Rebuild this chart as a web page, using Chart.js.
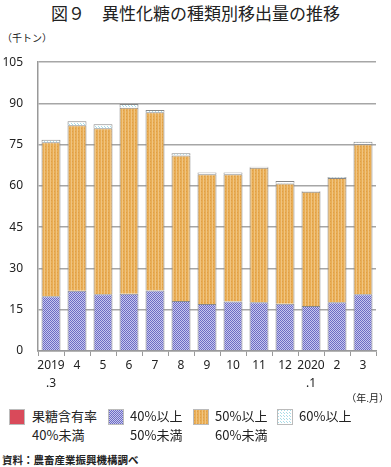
<!DOCTYPE html>
<html><head><meta charset="utf-8">
<script src="https://cdn.jsdelivr.net/npm/chart.js@4/dist/chart.umd.min.js"></script>
<style>
body{margin:0;background:#fff;width:391px;height:467px;position:relative;overflow:hidden;font-family:"Noto Sans CJK JP","Noto Sans",sans-serif;color:#222}
#title{position:absolute;left:0;top:1px;width:391px;text-align:center;font-size:17px;line-height:24px;font-weight:400}
#unit{position:absolute;left:2px;top:30px;font-size:10px}
#ym{position:absolute;right:2px;top:390px;font-size:10px}
#wrap{position:absolute;left:0;top:40px;width:391px;height:360px}
.lg{position:absolute;top:406px;font-size:13px;line-height:19px}
.lg canvas{position:absolute;left:0;top:3px;border:1px solid #bbb;box-sizing:border-box}
.lg div{position:absolute;white-space:nowrap}
#src{position:absolute;left:2px;top:452px;font-size:10.5px;font-weight:bold}
</style></head><body>
<div id="title">図９　異性化糖の種類別移出量の推移</div>
<div id="unit">（千トン）</div>
<div id="wrap"><canvas id="c" width="391" height="360"></canvas></div>
<div id="ym">（年.月）</div>
<div id="legend"></div>
<div id="src">資料：農畜産業振興機構調べ</div>
<script>
const categories = [["2019",".3"],"4","5","6","7","8","9","10","11","12",["2020",".1"],"2","3"];
const seriesNames = [["果糖含有率","40%未満"],["40%以上","50%未満"],["50%以上","60%未満"],["60%以上"]];
const under40 = [0,0,0,0,0,0,0,0,0,0,0,0,0];
const from40to50 = [19.9,21.9,20.6,20.8,22.0,18.2,17.1,18.0,17.7,17.2,16.4,17.7,20.6];
const from50to60 = [56.0,60.2,60.4,67.6,64.8,52.9,47.2,46.3,48.9,43.7,41.5,45.2,54.6];
const over60 = [0.9,1.4,1.4,1.4,0.8,0.8,0.6,0.6,0.4,0.9,0.3,0.4,0.9];
const yTicks = [0,15,30,45,60,75,90,105];

function mkPattern(kind){
  const p=document.createElement('canvas');
  const x=p.getContext('2d');
  if(kind==='red'){p.width=p.height=2;x.fillStyle='#d94a5a';x.fillRect(0,0,2,2);}
  else if(kind==='blue'){p.width=p.height=2;x.fillStyle='#c6c6ee';x.fillRect(0,0,2,2);x.fillStyle='#6c6cc4';x.fillRect(0,0,1,1);x.fillRect(1,1,1,1);}
  else if(kind==='orange'){p.width=3;p.height=3;x.fillStyle='#e8ad55';x.fillRect(0,0,3,3);x.fillStyle='#f0c480';x.fillRect(2,0,1,3);x.fillStyle='#e09e45';x.fillRect(0,1,1,1);}
  else {p.width=p.height=3;x.fillStyle='#ffffff';x.fillRect(0,0,3,3);x.fillStyle='#a8dce8';x.fillRect(0,0,1,1);x.fillRect(2,2,1,1);}
  return p;
}
const kinds=['red','blue','orange','cyan'];
const ctx=document.getElementById('c').getContext('2d');
const pats=kinds.map(k=>ctx.createPattern(mkPattern(k),'repeat'));
const dataArrays=[under40,from40to50,from50to60,over60];

new Chart(ctx,{
  type:'bar',
  data:{labels:categories,datasets:dataArrays.map((d,i)=>({label:seriesNames[i].join(''),data:d,backgroundColor:pats[i],borderColor:'#888',borderWidth:1,barPercentage:0.73,categoryPercentage:1}))},
  options:{
    responsive:false,animation:false,
    layout:{padding:{top:12,right:15,left:0,bottom:0}},
    plugins:{legend:{display:false},title:{display:false},tooltip:{enabled:false}},
    scales:{
      x:{stacked:true,
        grid:{display:true,drawOnChartArea:false,drawTicks:true,tickLength:5,color:'#999',offset:true},
        border:{display:true,color:'#999',width:1.5},
        ticks:{color:'#222',font:{family:'"Noto Sans","DejaVu Sans",sans-serif',size:12,lineHeight:1.5},padding:1,maxRotation:0,autoSkip:false},
        afterFit(s){s.height=49;}
      },
      y:{stacked:true,min:0,max:105,
        afterBuildTicks(s){s.ticks=yTicks.map(v=>({value:v}));},
        grid:{color:'#a6a6a6',lineWidth:1.5,drawTicks:false},
        border:{display:true,color:'#999',width:1.5},
        ticks:{color:'#222',font:{family:'"Noto Sans","DejaVu Sans",sans-serif',size:12},padding:15},
        afterFit(s){s.width=38;}
      }
    }
  }
});

// HTML legend
const lgX=[9,108,193,277];
const lg=document.getElementById('legend');
seriesNames.forEach((n,i)=>{
  const d=document.createElement('div');d.className='lg';d.style.left=lgX[i]+'px';
  const cv=document.createElement('canvas');cv.width=14;cv.height=14;
  const cx=cv.getContext('2d');cx.fillStyle=cx.createPattern(mkPattern(kinds[i]),'repeat');cx.fillRect(0,0,14,14);
  d.appendChild(cv);
  const t=document.createElement('div');t.style.left=(i===0?23:22)+'px';t.style.top='0px';t.innerHTML=n.join('<br>');
  d.appendChild(t);lg.appendChild(d);
});
</script>
</body></html>
